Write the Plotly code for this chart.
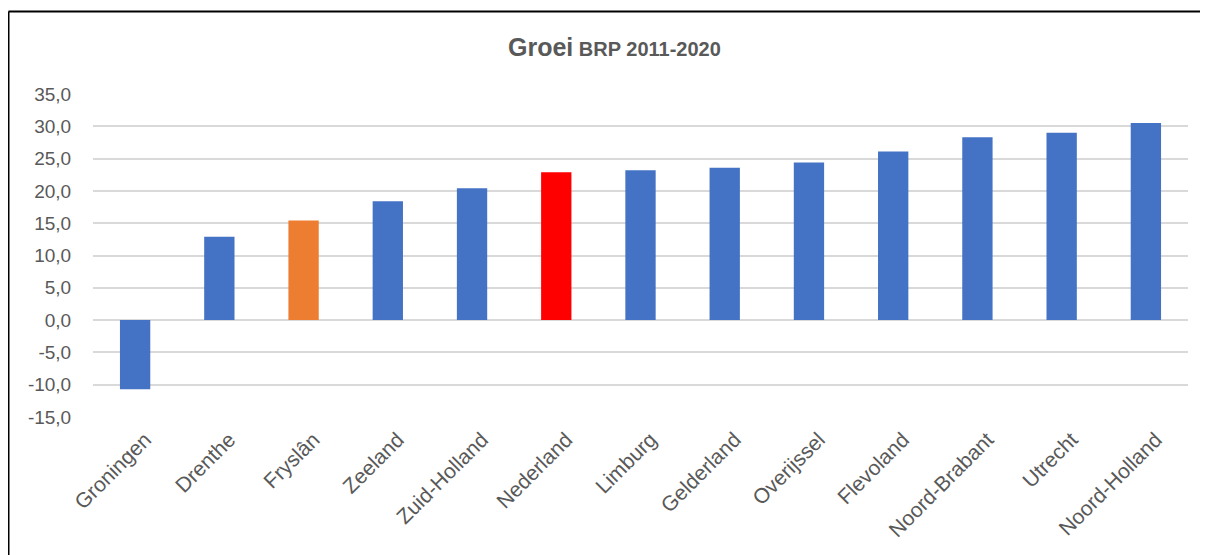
import plotly.graph_objects as go

categories = ["Groningen", "Drenthe", "Fryslân", "Zeeland", "Zuid-Holland", "Nederland",
              "Limburg", "Gelderland", "Overijssel", "Flevoland", "Noord-Brabant",
              "Utrecht", "Noord-Holland"]
values = [-10.7, 12.9, 15.4, 18.4, 20.4, 22.9, 23.2, 23.6, 24.4, 26.1, 28.3, 29.0, 30.5]
bar_colors = ["#4472C4", "#4472C4", "#ED7D31", "#4472C4", "#4472C4", "#FF0000",
              "#4472C4", "#4472C4", "#4472C4", "#4472C4", "#4472C4", "#4472C4", "#4472C4"]
y_ticks = [-15, -10, -5, 0, 5, 10, 15, 20, 25, 30, 35]
y_tick_labels = ["-15,0", "-10,0", "-5,0", "0,0", "5,0", "10,0", "15,0", "20,0",
                 "25,0", "30,0", "35,0"]

OFF = 8  # page body margin
W, H = 1208 - OFF, 555 - OFF
L, R, T, B = 93 - OFF, 20, 94 - OFF, 555 - 417
pw, ph = W - L - R, H - T - B

def px_x(x):
    return (x - OFF - L) / pw

def px_y(y):
    return 1 + (T - (y - OFF)) / ph

TXT = "#595959"
FONT = "Liberation Sans, Arial, sans-serif"

fig = go.Figure(go.Bar(
    x=categories, y=values, marker=dict(color=bar_colors, line=dict(width=0)),
    width=0.36,
))

fig.update_layout(
    width=W, height=H,
    margin=dict(l=L, r=R, t=T, b=B),
    paper_bgcolor="white", plot_bgcolor="white",
    font=dict(family=FONT, color=TXT, size=19),
    showlegend=False,
    xaxis=dict(tickangle=-45, tickfont=dict(size=21, color=TXT), showgrid=False,
               zeroline=False, showline=False, ticks="outside", ticklen=1,
               tickcolor="rgba(0,0,0,0)", ticklabelshift=10),
    yaxis=dict(range=[-15, 35], tickvals=y_ticks, ticktext=y_tick_labels,
               tickfont=dict(size=19, color=TXT), showgrid=True, gridcolor="#D9D9D9",
               gridwidth=1.5, zeroline=True, zerolinecolor="#D9D9D9", zerolinewidth=1.5,
               showline=False, ticks="outside", ticklen=17, tickcolor="rgba(0,0,0,0)"),
    annotations=[dict(
        text="<b><span style='font-size:25px'>Groei</span> BRP 2011-2020</b>",
        xref="paper", yref="paper", x=px_x(614), y=px_y(47),
        xanchor="center", yanchor="middle", showarrow=False,
        font=dict(size=20, color=TXT, family=FONT),
    )],
    shapes=[
        dict(type="line", xref="paper", yref="paper", x0=px_x(8.5), x1=px_x(1215),
             y0=px_y(11.5), y1=px_y(11.5), line=dict(color="black", width=2)),
        dict(type="line", xref="paper", yref="paper", x0=px_x(8.5), x1=px_x(8.5),
             y0=px_y(11.5), y1=px_y(560), line=dict(color="black", width=2)),
    ],
)

fig.write_html("out.html")
